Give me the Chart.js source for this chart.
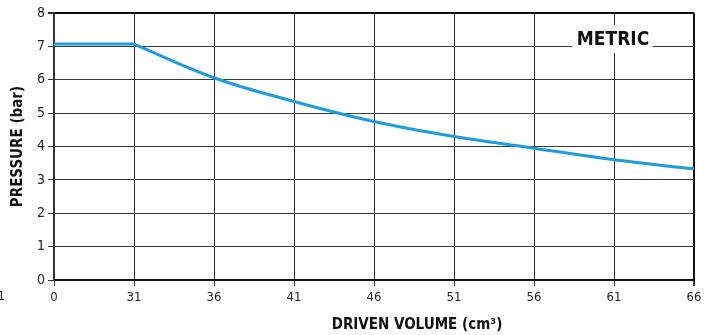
<!DOCTYPE html>
<html>
<head>
<meta charset="utf-8">
<script src="https://cdn.jsdelivr.net/npm/chart.js@4/dist/chart.umd.min.js"></script>
<style>
    html, body { margin: 0; padding: 0; background: #fff; }
    #wrap { width: 713px; height: 335px; }
</style>
</head>
<body>
<div id="wrap"><canvas id="pressureChart"></canvas></div>
<script>
// Chart data
const volumeLabels = ['0', '31', '36', '41', '46', '51', '56', '61', '66'];
const flatPressure = [7.07, 7.07, null, null, null, null, null, null, null];
const curvePressure = [null, 7.07, 6.06, 5.35, 4.75, 4.30, 3.95, 3.60, 3.33];
const pressureTicks = [0, 1, 2, 3, 4, 5, 6, 7, 8];

const narrow = '"Liberation Sans Narrow", "DejaVu Sans Condensed", Arial, sans-serif';
const lineBlue = '#1c9ddd';

// Titles and the METRIC box are drawn by hand so they sit where the original has them
const extrasPlugin = {
    id: 'extras',
    afterDraw(chart) {
        const ctx = chart.ctx;
        const area = chart.chartArea;
        ctx.save();

        // METRIC tag
        ctx.fillStyle = '#fff';
        ctx.fillRect(572, 25, 81, 28);
        ctx.fillStyle = '#111';
        ctx.font = 'bold 19px ' + narrow;
        ctx.textAlign = 'center';
        ctx.textBaseline = 'middle';
        ctx.fillText('METRIC', 613, 40);

        // axis titles
        ctx.font = 'bold 15px ' + narrow;
        ctx.fillText('DRIVEN VOLUME (cm³)', 417, 325);
        ctx.translate(18, (area.top + area.bottom) / 2);
        ctx.rotate(-Math.PI / 2);
        ctx.fillText('PRESSURE (bar)', 0, 0);
        ctx.restore();

        // clipped label at the far left edge
        ctx.save();
        ctx.fillStyle = '#222';
        ctx.font = '13px ' + narrow;
        ctx.textAlign = 'right';
        ctx.textBaseline = 'top';
        ctx.fillText('31', 5, 290);
        ctx.restore();
    }
};

const ctx = document.getElementById('pressureChart').getContext('2d');
const pressureChart = new Chart(ctx, {
    type: 'line',
    data: {
        labels: volumeLabels,
        datasets: [
            {
                data: flatPressure,
                borderColor: lineBlue,
                borderWidth: 3,
                pointRadius: 0,
                tension: 0
            },
            {
                data: curvePressure,
                borderColor: lineBlue,
                borderWidth: 3,
                pointRadius: 0,
                tension: 0.4
            }
        ]
    },
    options: {
        responsive: true,
        maintainAspectRatio: false,
        animation: false,
        layout: { padding: { top: 13, right: 19, left: 0, bottom: 0 } },
        plugins: {
            legend: { display: false },
            tooltip: { enabled: false }
        },
        scales: {
            x: {
                type: 'category',
                offset: false,
                afterFit: scale => { scale.height = 55; },
                grid: {
                    offset: false,
                    color: ctx => ctx.index === volumeLabels.length - 1 ? '#111' : '#2a2a2a',
                    lineWidth: ctx => ctx.index === volumeLabels.length - 1 ? 2 : 1,
                    tickLength: 6,
                    tickColor: '#333'
                },
                border: { color: '#111', width: 2 },
                ticks: {
                    color: '#222',
                    font: { family: narrow, size: 13 },
                    padding: 4,
                    maxRotation: 0,
                    autoSkip: false
                }
            },
            y: {
                min: 0,
                max: 8,
                afterFit: scale => { scale.width = 54; },
                afterBuildTicks: scale => {
                    scale.ticks = pressureTicks.map(v => ({ value: v }));
                },
                grid: {
                    color: ctx => ctx.tick && ctx.tick.value === 8 ? '#111' : '#3a3a3a',
                    lineWidth: ctx => ctx.tick && ctx.tick.value === 8 ? 2 : 1,
                    tickLength: 6,
                    tickColor: '#333'
                },
                border: { color: '#333', width: 2 },
                ticks: {
                    color: '#222',
                    font: { family: narrow, size: 14 },
                    padding: 3
                }
            }
        }
    },
    plugins: [extrasPlugin]
});
</script>
</body>
</html>
